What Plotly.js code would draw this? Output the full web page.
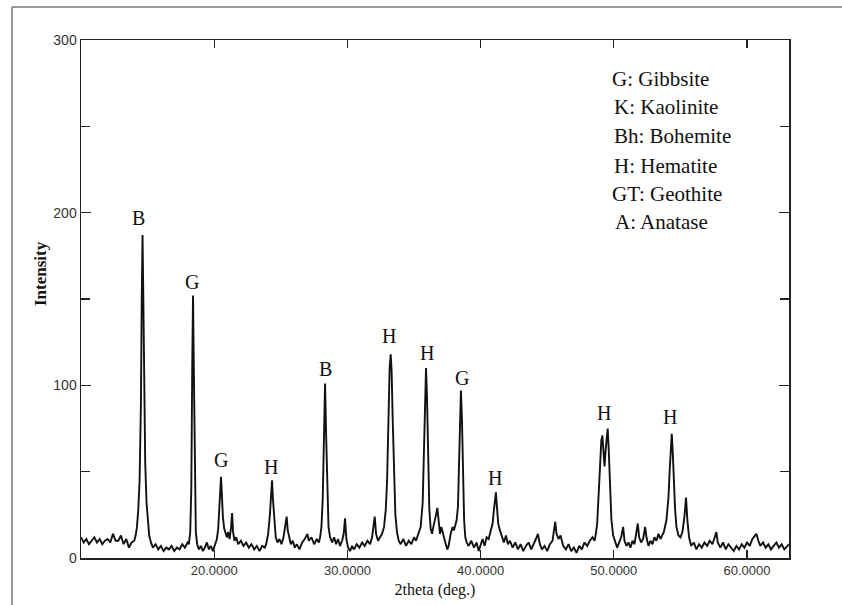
<!DOCTYPE html>
<html>
<head>
<meta charset="utf-8">
<script src="https://cdn.plot.ly/plotly-3.0.1.min.js"></script>
<style>html,body{margin:0;padding:0;background:#fff;}#chart{width:842px;height:605px;}</style>
</head>
<body>
<div id="chart"></div>
<script>
// 2theta (deg.) values
const twoTheta = [
 10.0,10.2,10.4,10.6,10.8,11.0,11.2,11.4,11.6,11.8,12.0,12.2,12.4,12.6,12.8,13.0,13.2,13.4,13.6,13.8,14.0,
 14.1,14.2,14.3,14.4,14.5,14.56,14.62,14.68,14.74,14.82,14.92,15.02,15.12,15.25,
 15.4,15.6,15.8,16.0,16.2,16.4,16.6,16.8,17.0,17.2,17.4,17.6,17.8,18.0,
 18.1,18.2,18.28,18.35,18.41,18.47,18.54,18.62,18.72,
 18.85,19.0,19.15,19.3,19.45,19.6,19.75,19.9,20.0,
 20.1,20.2,20.3,20.38,20.45,20.51,20.57,20.65,20.75,20.85,20.95,21.05,21.15,21.27,21.34,21.42,21.52,21.65,21.8,
 22.0,22.2,22.4,22.6,22.8,23.0,23.2,23.4,23.6,23.8,
 23.9,24.05,24.18,24.27,24.34,24.41,24.5,24.62,24.75,24.9,25.05,25.2,25.3,25.38,25.44,25.52,25.62,25.75,25.9,
 26.05,26.2,26.4,26.6,26.8,27.0,27.1,27.3,27.5,27.7,27.85,
 27.95,28.05,28.15,28.24,28.32,28.4,28.48,28.58,28.7,28.85,29.0,29.15,29.3,29.45,29.6,29.72,29.82,29.92,
 30.05,30.2,30.35,30.5,30.7,30.9,31.1,31.3,31.5,31.7,31.85,31.95,32.05,32.15,32.3,32.45,
 32.6,32.75,32.88,32.98,33.08,33.17,33.25,33.32,33.4,33.5,33.6,33.72,33.85,34.0,34.2,34.4,34.6,34.8,35.0,35.15,
 35.3,35.5,35.65,35.75,35.83,35.9,35.97,36.05,36.15,36.25,36.35,36.45,36.55,36.65,36.75,36.85,36.95,37.05,37.2,37.35,37.5,37.6,37.75,37.9,38.0,38.1,
 38.2,38.3,38.38,38.45,38.52,38.6,38.68,38.76,38.85,38.95,39.1,39.3,39.5,39.7,39.85,40.0,40.15,40.3,40.45,
 40.6,40.75,40.9,41.0,41.08,41.15,41.22,41.32,41.45,41.6,41.75,41.9,42.05,42.2,42.4,42.6,42.8,43.0,43.2,43.4,43.6,43.8,
 44.0,44.15,44.3,44.45,44.6,44.8,45.0,45.2,45.4,45.52,45.6,45.7,45.85,46.0,46.2,46.4,46.6,46.8,47.0,47.2,47.4,47.6,47.8,48.0,48.2,48.4,48.55,
 48.65,48.75,48.88,48.98,49.06,49.14,49.22,49.3,49.38,49.46,49.54,49.62,49.72,49.82,49.95,50.1,50.25,50.4,50.55,50.7,50.8,50.95,
 51.1,51.25,51.4,51.55,51.7,51.8,51.9,52.05,52.2,52.35,52.45,52.6,52.75,52.9,53.05,53.2,53.35,53.5,53.62,
 53.75,53.95,54.1,54.2,54.28,54.35,54.42,54.5,54.6,54.7,54.85,55.0,55.15,55.3,55.42,55.52,55.65,55.8,
 56.0,56.2,56.4,56.6,56.8,57.0,57.2,57.4,57.6,57.7,57.8,58.0,58.2,58.4,58.6,58.8,59.0,59.2,59.4,59.6,59.8,
 60.0,60.2,60.4,60.6,60.7,60.85,61.0,61.2,61.4,61.6,61.8,62.0,62.2,62.4,62.6,62.8,63.0,63.15
];
const intensity = [
 12,9,11,8,10,12,9,11,8,10,11,9,14,10,10,13,8,11,6,9,10,
 13,18,28,45,90,150,187,150,95,55,32,20,13,9,
 6,8,5,7,4,6,5,7,4,6,5,8,6,9,
 8,15,40,110,152,110,40,15,8,
 5,7,4,6,9,5,7,4,6,
 8,11,17,27,38,47,38,24,17,14,12,15,11,18,26,15,10,12,8,
 10,7,9,6,8,5,7,4,7,6,
 8,14,25,36,45,34,22,12,9,11,8,12,17,22,24,16,12,8,10,
 6,8,5,9,11,14,10,12,8,11,9,
 12,18,35,70,101,72,38,18,12,9,12,8,11,7,10,14,23,11,
 6,4,7,5,8,6,9,7,10,8,12,18,24,14,10,12,
 14,18,28,45,80,110,118,108,80,45,25,15,10,8,11,7,10,8,12,10,
 13,18,32,60,95,110,95,55,28,17,14,18,21,25,29,22,14,18,13,9,5,7,14,18,16,19,
 22,30,60,90,97,80,45,22,12,9,7,10,6,9,4,8,11,7,12,
 11,15,20,28,35,38,30,20,16,12,9,13,8,10,6,9,5,8,4,7,9,5,
 8,11,14,8,5,7,4,8,10,17,21,14,11,13,7,5,8,4,6,3,7,5,9,7,10,12,10,
 14,20,40,60,68,71,60,53,62,72,75,62,40,22,13,9,6,9,12,18,10,7,
 9,6,10,8,14,20,12,9,11,18,12,7,10,8,12,10,14,11,13,
 15,22,35,52,66,72,62,45,28,18,13,12,15,24,35,22,12,7,
 9,5,8,6,9,7,10,8,12,15,9,6,9,5,8,6,4,7,5,8,6,
 9,7,11,13,14,10,7,9,6,8,5,7,9,6,8,5,7,8
];
// Peak labels
const peakLabels = ["B","G","G","H","B","H","H","G","H","H","H"];
const peakLabelX = [14.35,18.33,20.51,24.24,28.39,33.12,35.98,38.6,41.08,49.26,54.22];
const peakLabelY = [196.9,159.8,56.8,52.9,109.5,128.6,118.7,104.2,46.3,84.2,81.8];
// Phase key
const phaseKey = ["G: Gibbsite","K: Kaolinite","Bh: Bohemite","H: Hematite","GT: Geothite","A: Anatase"];
const xTicks = [20,30,40,50,60];
const xTickText = ["20.0000","30.0000","40.0000","50.0000","60.0000"];
const yTicks = [0,100,200,300];

const serif = "Liberation Serif, Times New Roman, serif";
const annotations = [];
peakLabels.forEach((t,i)=>annotations.push({
  x: peakLabelX[i], y: peakLabelY[i], xref:'x', yref:'y', text:t, showarrow:false,
  font:{family:serif,size:20,color:'#111'}, xanchor:'center', yanchor:'middle'
}));
const keyY = [0.9247,0.8707,0.8147,0.7568,0.7027,0.6486];
const keyX = [0.747,0.750,0.750,0.750,0.747,0.751];
phaseKey.forEach((t,i)=>annotations.push({
  x:keyX[i], y:keyY[i], xref:'paper', yref:'paper', text:t, showarrow:false,
  font:{family:serif,size:21,color:'#111'}, xanchor:'left', yanchor:'middle'
}));
// y-axis title
annotations.push({
  x:-0.058, y:0.55, xref:'paper', yref:'paper', text:'<b>Intensity</b>', textangle:-90,
  showarrow:false, font:{family:serif,size:17,color:'#111'}, xanchor:'center', yanchor:'middle'
});

const trace = {
  x: twoTheta, y: intensity, type:'scatter', mode:'lines',
  line:{color:'#111', width:1.9}, hoverinfo:'skip'
};

const layout = {
  width:842, height:605,
  margin:{l:81, r:53, t:40, b:47},
  paper_bgcolor:'#fff', plot_bgcolor:'#fff',
  showlegend:false,
  xaxis:{
    range:[10,63.15], tickvals:xTicks, ticktext:xTickText,
    ticks:'inside', ticklen:8, tickwidth:1.2, tickcolor:'#222',
    showline:true, linecolor:'#222', linewidth:1.5, mirror:'ticks',
    showgrid:false, zeroline:false,
    tickfont:{family:"Liberation Sans, Arial, sans-serif", size:13, color:'#333'},
    title:{text:'2theta (deg.)', font:{family:serif, size:16, color:'#111'}, standoff:6}
  },
  yaxis:{
    range:[0,300], tickvals:yTicks,
    ticks:'inside', ticklen:10, tickwidth:1.2, tickcolor:'#222',
    minor:{tickvals:[50,150,250], ticks:'inside', ticklen:9, tickcolor:'#222', tickwidth:1.2, showgrid:false},
    showline:true, linecolor:'#222', linewidth:1.5, mirror:'ticks',
    showgrid:false, zeroline:false,
    tickfont:{family:"Liberation Sans, Arial, sans-serif", size:14, color:'#333'}
  },
  annotations: annotations,
  shapes:[
    {type:'line', xref:'paper', yref:'paper', x0:-0.0975, x1:1.08, y0:1.0637, y1:1.0637, line:{color:'#777', width:1.5}},
    {type:'line', xref:'paper', yref:'paper', x0:-0.0975, x1:-0.0975, y0:1.0637, y1:-0.1, line:{color:'#777', width:1.5}}
  ]
};
Plotly.newPlot('chart',[trace],layout,{staticPlot:true, displayModeBar:false});
</script>
</body>
</html>
